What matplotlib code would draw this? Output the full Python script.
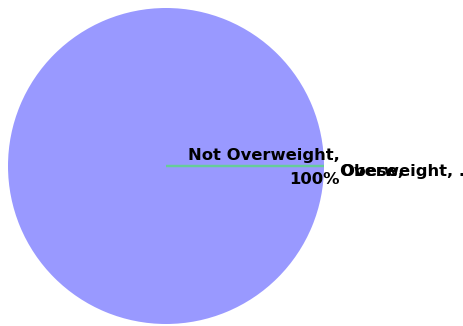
import matplotlib.pyplot as plt

categories = ['Not Overweight', 'Obese', 'Overweight']
values = [100, 0, 0]
label_texts = ['Not Overweight,\n100%', 'Obese,', 'Overweight, .']
colors = ['#9999FF', '#66CC99', '#66CC99']

fig = plt.figure(figsize=(4.64, 3.26), dpi=100)
# square axes so the pie sits at the left like the original
ax = fig.add_axes([8 / 464, 2 / 326, 316 / 464, 316 / 326])

wedges, _ = ax.pie(values, colors=colors, startangle=0, counterclock=True,
                   radius=1.0, normalize=True)
for w, c in zip(wedges, colors):
    w.set_edgecolor(c)
    w.set_linewidth(1.6)
wedges[0].set_linewidth(0)

ax.set_xlim(-1, 1)
ax.set_ylim(-1, 1)
ax.set_aspect('equal')
ax.axis('off')

ax.text(1.10, -0.01, label_texts[0], ha='right', va='center', fontsize=11.8,
        fontweight='bold', linespacing=1.75, clip_on=False)
ax.text(1.10, -0.035, label_texts[1], ha='left', va='center', fontsize=11.8,
        fontweight='bold', clip_on=False)
ax.text(1.10, -0.035, label_texts[2], ha='left', va='center', fontsize=11.8,
        fontweight='bold', clip_on=False)

fig.savefig('out.png', dpi=100)
